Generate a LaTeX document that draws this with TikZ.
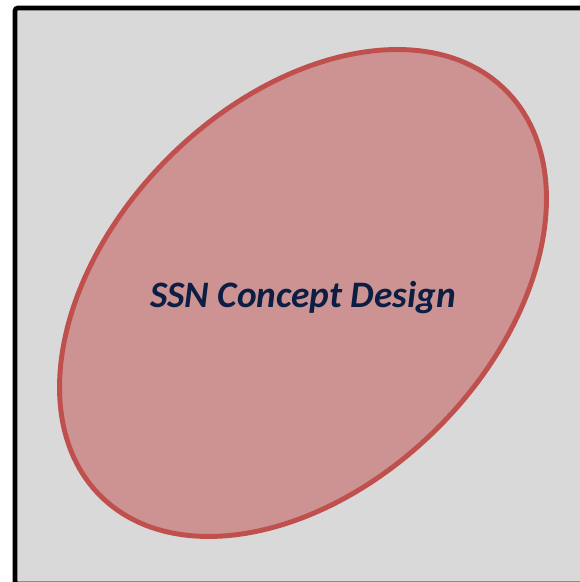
\documentclass[tikz,border=0pt]{standalone}
\usepackage{fontspec}
\setmainfont{Carlito}
\usepackage{tikz}
\usetikzlibrary{shapes, positioning}
\definecolor{panelgray}{RGB}{217,217,217}
\definecolor{conceptred}{RGB}{192,80,77}
\definecolor{conceptfill}{RGB}{205,147,146}
\definecolor{titlenavy}{RGB}{12,30,68}
\tikzstyle{panel} = [draw=black, line width=3.4pt, fill=panelgray, rounded corners=2pt]
\tikzstyle{concept} = [draw=conceptred, line width=3.7pt, fill=conceptfill]
\tikzstyle{title} = [text=titlenavy, font=\fontsize{28}{32}\selectfont\bfseries\itshape, inner sep=0pt]

\begin{document}
\begin{tikzpicture}[x=0.75pt, y=0.75pt]
    \useasboundingbox (0,0) rectangle (580,582);
    \clip (0,0) rectangle (580,582);
    % Background
    \draw [panel] (15,-2) rectangle (600,574);
    % Nodes
    \coordinate (mid) at (303,289);
    \draw [concept, rotate around={45:(mid)}] (mid) ellipse (215pt and 143pt);
    \node (ssn) [title] at (303,284) {SSN Concept Design};
\end{tikzpicture}
\end{document}
